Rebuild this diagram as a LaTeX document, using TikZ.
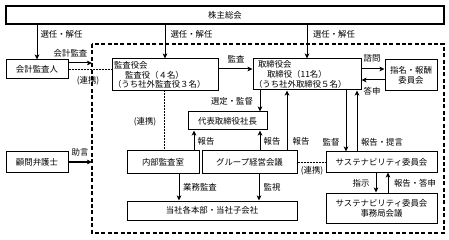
\documentclass[tikz,border=0pt]{standalone}
\usepackage{fontspec}
\setmainfont{Noto Sans CJK JP}
\usetikzlibrary{arrows.meta}
\newcommand\dgfont{\fontsize{8.4}{9.7}\selectfont}
\begin{document}
\begin{tikzpicture}[x=1pt,y=-1pt,
  box/.style={draw, line width=1pt, inner sep=1pt, font=\dgfont, align=center},
  lbl/.style={inner sep=0pt, font=\dgfont},
  arr/.style={line width=1pt, -{Stealth[length=5pt,width=4.6pt,inset=1.2pt]}},
  plain/.style={line width=1pt},
  link/.style={line width=0.8pt, dash pattern=on 0.8pt off 0.7pt},
  frame/.style={line width=1.2pt, dash pattern=on 4pt off 2.4pt}
]
\useasboundingbox (0,0) rectangle (449,240);
\fill[white] (0,0) rectangle (449,240);

% dashed frame
\draw[frame] (92,44) rectangle (444,233);
\coordinate (fw1) at (92,63);
\coordinate (fw2) at (92,162);

% boxes
\node[box, minimum width=438pt, minimum height=18pt, line width=1.2pt] (kabu) at (225,15) {株主総会};
\node[box, minimum width=62pt, minimum height=19pt] (kaikei) at (37,69.5) {会計監査人};
\node[box, minimum width=62pt, minimum height=20pt] (komon) at (37,162) {顧問弁護士};
\node[box, minimum height=32pt, text width=104pt, align=left] (kansa) at (165,75)
  {\hspace*{1pt}監査役会\\\hspace*{12pt}監査役（４名）\\（うち社外監査役３名）};
\node[box, minimum height=31pt, text width=106pt, align=left] (tori) at (307,74.5)
  {\hspace*{4pt}取締役会\\\hspace*{13pt}取締役（11名）\\（うち社外取締役５名）};
\node[box, minimum width=52pt, minimum height=31pt] (shimei) at (411,75.5) {指名・報酬\\委員会};
\node[box, minimum width=79pt, minimum height=18pt] (daihyo) at (227.5,121) {代表取締役社長};
\node[box, minimum width=72pt, minimum height=22pt] (naibu) at (163,162) {内部監査室};
\node[box, minimum width=95pt, minimum height=22pt] (group) at (249.5,162) {グループ経営会議};
\node[box, minimum width=170pt, minimum height=19pt] (honbu) at (212,210.5) {当社各本部・当社子会社};
\node[box, minimum width=111pt, minimum height=20pt] (sus) at (381.5,162) {サステナビリティ委員会};
\node[box, minimum width=111pt, minimum height=30pt] (jimu) at (381.5,208) {サステナビリティ委員会\\事務局会議};

% connectors from shareholders
\draw[arr] (kabu.south -| kaikei.north) -- (kaikei.north);
\draw[arr] (kabu.south -| kansa.north) -- (kansa.north);
\draw[arr] (kabu.south -| tori.north) -- (tori.north);

% external
\draw[arr] (kaikei.east |- fw1) -- (fw1);
\draw[link] (kaikei.east) -- (kansa.west |- kaikei.east);
\draw[arr] (komon.east) -- (fw2);

% audit board to board
\draw[arr] ([yshift=6pt]kansa.east) -- ([yshift=5.5pt]tori.west);
\draw[arr] ([yshift=5.5pt]tori.east) -- ([yshift=6.5pt]shimei.west);
\draw[arr] ([yshift=-4.5pt]shimei.west) -- ([yshift=-5.5pt]tori.east);

% board to president
\draw[arr] ([xshift=-47pt]tori.south) -- ([xshift=32.5pt]daihyo.north);
\draw[link] ([xshift=-1pt]kansa.south) -- ([xshift=1pt]naibu.north);
\draw[arr] ([xshift=31pt]naibu.north) -- ([xshift=-33.5pt]daihyo.south);
\draw[arr] ([xshift=10.5pt]group.north) -- ([xshift=32.5pt]daihyo.south);
\draw[arr] ([xshift=37.5pt]group.north) -- ([xshift=-20pt]tori.south);

% downward
\draw[arr] ([xshift=16pt]naibu.south) -- ([xshift=-33pt]honbu.north);
\draw[arr] ([xshift=9.5pt]group.south) -- ([xshift=47pt]honbu.north);

% sustainability
\draw[link] (group.east) -- (sus.west);
\draw[arr] ([xshift=39pt]tori.south) -- ([xshift=-35.5pt]sus.north);
\draw[arr] ([xshift=-24.5pt]sus.north) -- ([xshift=50pt]tori.south);
\draw[arr] ([xshift=-5.5pt]sus.south) -- ([xshift=-5.5pt]jimu.north);
\draw[arr] ([xshift=6.5pt]jimu.north) -- ([xshift=6.5pt]sus.south);

% labels
\node[lbl] (l1) at (61.5,34) {選任・解任};
\node[lbl] (l2) at (191.5,34) {選任・解任};
\node[lbl] (l3) at (334,34) {選任・解任};
\node[lbl] (l4) at (70.5,53) {会計監査};
\node[lbl] (l5) at (88,81) {(連携)};
\node[lbl] (l6) at (80,152) {助言};
\node[lbl] (l7) at (236,59) {監査};
\node[lbl] (l8) at (372,58) {諮問};
\node[lbl] (l9) at (372,91) {答申};
\node[lbl] (l10) at (232,101) {選定・監督};
\node[lbl] (l11) at (145,122) {(連携)};
\node[lbl] (l12) at (206,141) {報告};
\node[lbl] (l13) at (272,141) {報告};
\node[lbl] (l14) at (301,141) {報告};
\node[lbl] (l15) at (331,142) {監督};
\node[lbl] (l16) at (382,142) {報告・提言};
\node[lbl] (l17) at (312,171) {(連携)};
\node[lbl] (l18) at (200,187) {業務監査};
\node[lbl] (l19) at (272,187) {監視};
\node[lbl] (l20) at (361,183) {指示};
\node[lbl] (l21) at (415,183) {報告・答申};
\end{tikzpicture}
\end{document}
